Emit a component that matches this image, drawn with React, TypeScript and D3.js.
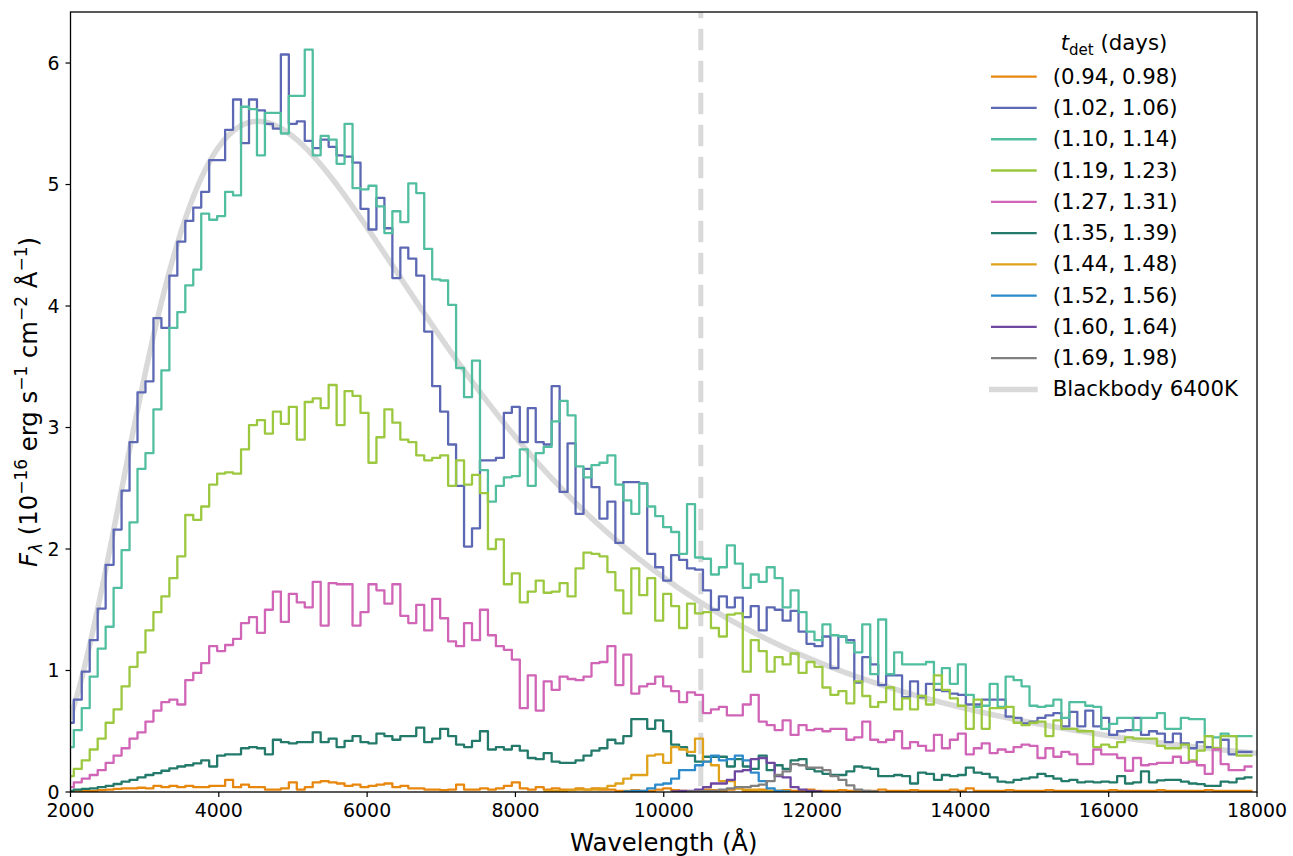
import React from "react";
import * as d3 from "d3";

// Histogram bin grid (Å)
const BIN_START = 1937;
const BIN_WIDTH = 107.4;

// t_det (0.94, 0.98)
const flux094 = [
  0.0, 0.005, 0.01, 0.01, 0.015, 0.02, 0.025, 0.03, 0.03, 0.035,
  0.03, 0.05, 0.04, 0.05, 0.04, 0.05, 0.04, 0.04, 0.05, 0.05,
  0.1, 0.04, 0.06, 0.04, 0.04, 0.02, 0.02, 0.03, 0.08, 0.02,
  0.04, 0.08, 0.09, 0.08, 0.07, 0.05, 0.06, 0.04, 0.05, 0.06,
  0.07, 0.04, 0.05, 0.03, 0.03, 0.02, 0.02, 0.015, 0.02, 0.06,
  0.02, 0.02, 0.03, 0.02, 0.03, 0.05, 0.08, 0.03, 0.02, 0.04,
  0.02, 0.03, 0.02, 0.02, 0.03, 0.02, 0.03, 0.02, 0.02, 0.01,
  0.01, 0.015, 0.01, 0.01, 0.02, 0.03, 0.015, 0.01, 0.005, 0.01,
  0.02, 0.015, 0.01, 0.02, 0.03, 0.01, 0.01, 0.02, 0.01, 0.01,
  0.015, 0.01, 0.01, 0.02, 0.01, 0.01, 0.01, 0.015, 0.01, 0.01,
  0.01, 0.01, 0.02, 0.01, 0.01, 0.01, 0.015, 0.01, 0.01, 0.01,
  0.01, 0.02, 0.01, 0.03, 0.01, 0.01, 0.01, 0.01, 0.015, 0.01,
  0.01, 0.01, 0.01, 0.015, 0.01, 0.01, 0.01, 0.01, 0.01, 0.01,
  0.01, 0.015, 0.01, 0.01, 0.01, 0.01, 0.01, 0.015, 0.01, 0.01,
  0.01, 0.01, 0.01, 0.015, 0.01, 0.01, 0.01, 0.01, 0.01,
];

// t_det (1.02, 1.06)
const flux102 = [
  0.57, 0.76, 0.99, 1.25, 1.51, 1.87, 2.16, 2.48, 2.88, 3.29,
  3.38, 3.9, 3.82, 4.25, 4.53, 4.7, 4.81, 4.94, 5.2, 5.2,
  5.45, 5.7, 5.34, 5.7, 5.61, 5.5, 5.46, 6.07, 5.5, 5.52,
  5.36, 5.3, 5.37, 5.31, 5.24, 5.23, 5.18, 4.8, 4.63, 4.89,
  4.64, 4.23, 4.48, 4.39, 4.25, 3.79, 3.34, 3.13, 2.86, 2.52,
  2.02, 2.17, 2.73, 2.73, 2.75, 3.12, 3.17, 2.88, 3.16, 2.88,
  2.86, 3.34, 2.47, 2.87, 2.29, 2.66, 2.51, 2.25, 2.39, 2.05,
  2.55, 2.55, 2.54, 1.96, 1.85, 1.74, 1.95, 1.91, 1.84, 1.83,
  1.66, 1.5, 1.61, 1.52, 1.6, 1.44, 1.53, 1.33, 1.52, 1.5,
  1.41, 1.49, 1.32, 1.22, 1.2, 1.28, 1.02, 1.28, 1.25, 0.9,
  1.11, 1.05, 0.88, 0.96, 0.96, 0.78, 0.91, 0.78, 0.89, 0.84,
  0.83, 0.81, 0.8, 0.72, 0.72, 0.76, 0.76, 0.76, 0.62, 0.61,
  0.565, 0.58, 0.61, 0.63, 0.65, 0.54, 0.66, 0.54, 0.67, 0.54,
  0.61, 0.47, 0.5, 0.51, 0.61, 0.47, 0.5, 0.48, 0.41, 0.48,
  0.4, 0.36, 0.41, 0.37, 0.36, 0.43, 0.31, 0.33, 0.33,
];

// t_det (1.10, 1.14)
const flux110 = [
  0.37, 0.51, 0.69, 0.95, 1.18, 1.36, 1.68, 1.99, 2.22, 2.66,
  2.79, 3.15, 3.47, 3.82, 3.95, 4.17, 4.3, 4.76, 4.71, 4.74,
  4.94, 4.91, 5.64, 5.62, 5.24, 5.59, 5.59, 5.42, 5.73, 5.73,
  6.11, 5.24, 5.4, 5.37, 5.17, 5.5, 4.97, 4.96, 4.99, 4.82,
  4.6, 4.78, 4.69, 5.01, 4.93, 4.47, 4.22, 4.21, 4.01, 3.49,
  3.25, 3.55, 2.65, 2.39, 2.52, 2.59, 2.6, 2.82, 2.52, 2.79,
  2.84, 3.05, 3.22, 3.1, 2.68, 2.59, 2.69, 2.71, 2.77, 2.53,
  2.4, 2.29, 2.54, 2.35, 2.27, 2.18, 2.14, 1.96, 2.37, 1.93,
  1.92, 1.79, 1.85, 2.03, 1.88, 1.68, 1.79, 1.73, 1.85, 1.76,
  1.52, 1.66, 1.48, 1.32, 1.25, 1.38, 1.29, 1.28, 1.23, 1.15,
  1.38, 0.97, 1.42, 0.97, 1.15, 1.05, 1.05, 1.05, 1.07, 0.89,
  1.02, 0.89, 1.05, 0.8, 0.7, 0.71, 0.89, 0.7, 0.95, 0.92,
  0.87, 0.71, 0.7, 0.71, 0.76, 0.61, 0.74, 0.74, 0.71, 0.7,
  0.52, 0.56, 0.61, 0.61, 0.51, 0.61, 0.61, 0.65, 0.52, 0.52,
  0.61, 0.6, 0.6, 0.46, 0.45, 0.48, 0.46, 0.46, 0.46,
];

// t_det (1.19, 1.23)
const flux119 = [
  0.13, 0.19, 0.26, 0.35, 0.44, 0.57, 0.68, 0.87, 1.03, 1.15,
  1.33, 1.48, 1.61, 1.76, 1.94, 2.28, 2.24, 2.35, 2.53, 2.62,
  2.63, 2.62, 2.82, 3.02, 3.06, 2.95, 3.13, 3.03, 3.17, 2.9,
  3.21, 3.24, 3.16, 3.35, 3.02, 3.3, 3.26, 3.12, 2.71, 2.92,
  3.15, 3.04, 2.9, 2.88, 2.77, 2.73, 2.75, 2.77, 2.52, 2.73,
  2.53, 2.61, 2.46, 2.0, 2.08, 1.71, 1.8, 1.56, 1.65, 1.74,
  1.64, 1.65, 1.72, 1.61, 1.84, 1.97, 1.96, 1.94, 1.81, 1.66,
  1.47, 1.84, 1.62, 1.76, 1.41, 1.63, 1.53, 1.35, 1.55, 1.47,
  1.48, 1.35, 1.28, 1.46, 1.47, 0.99, 1.25, 1.16, 0.99, 1.11,
  1.05, 1.14, 0.98, 1.07, 1.03, 0.86, 0.8, 0.83, 0.73, 0.91,
  0.79, 0.7, 0.74, 0.86, 0.68, 0.77, 0.68, 0.79, 0.72, 0.96,
  0.84, 0.77, 0.71, 0.52, 0.76, 0.52, 0.69, 0.69, 0.7, 0.57,
  0.55, 0.57, 0.58, 0.46, 0.59, 0.52, 0.52, 0.5, 0.5, 0.37,
  0.39, 0.37, 0.41, 0.45, 0.44, 0.44, 0.44, 0.38, 0.36, 0.36,
  0.39, 0.26, 0.34, 0.46, 0.36, 0.46, 0.46, 0.3, 0.3,
];

// t_det (1.27, 1.31)
const flux127 = [
  0.04, 0.08, 0.11, 0.14, 0.18, 0.24, 0.3, 0.36, 0.44, 0.49,
  0.58, 0.67, 0.74, 0.76, 0.72, 0.92, 0.98, 1.06, 1.2, 1.16,
  1.21, 1.26, 1.39, 1.44, 1.31, 1.5, 1.65, 1.4, 1.63, 1.56,
  1.52, 1.73, 1.37, 1.72, 1.71, 1.71, 1.37, 1.48, 1.71, 1.66,
  1.55, 1.71, 1.45, 1.39, 1.54, 1.33, 1.59, 1.43, 1.24, 1.2,
  1.39, 1.25, 1.5, 1.29, 1.2, 1.17, 1.09, 0.69, 0.96, 0.67,
  0.91, 0.84, 0.95, 0.93, 0.92, 0.95, 1.06, 1.07, 1.2, 0.88,
  1.13, 0.81, 0.87, 0.89, 0.95, 0.87, 0.83, 0.74, 0.82, 0.8,
  0.65, 0.68, 0.7, 0.63, 0.63, 0.72, 0.8, 0.58, 0.55, 0.51,
  0.59, 0.47, 0.55, 0.51, 0.52, 0.5, 0.52, 0.52, 0.43, 0.45,
  0.58, 0.43, 0.41, 0.43, 0.5, 0.36, 0.41, 0.38, 0.34, 0.47,
  0.36, 0.43, 0.48, 0.31, 0.36, 0.4, 0.32, 0.35, 0.33, 0.37,
  0.39, 0.38, 0.28, 0.36, 0.29, 0.33, 0.31, 0.23, 0.23, 0.35,
  0.31, 0.31, 0.28, 0.175, 0.28, 0.22, 0.23, 0.24, 0.24, 0.29,
  0.24, 0.25, 0.22, 0.15, 0.35, 0.23, 0.18, 0.18, 0.21,
];

// t_det (1.35, 1.39)
const flux135 = [
  0.01, 0.02, 0.025, 0.03, 0.04, 0.05, 0.066, 0.085, 0.1, 0.12,
  0.14, 0.155, 0.175, 0.195, 0.21, 0.22, 0.235, 0.26, 0.21, 0.3,
  0.31, 0.31, 0.36, 0.37, 0.36, 0.31, 0.43, 0.41, 0.4, 0.41,
  0.41, 0.49, 0.41, 0.44, 0.37, 0.42, 0.46, 0.41, 0.4, 0.48,
  0.46, 0.43, 0.46, 0.46, 0.53, 0.41, 0.44, 0.52, 0.46, 0.39,
  0.37, 0.42, 0.5, 0.35, 0.37, 0.35, 0.38, 0.34, 0.28, 0.27,
  0.32, 0.25, 0.24, 0.24, 0.26, 0.3, 0.34, 0.36, 0.43, 0.4,
  0.46, 0.6, 0.6, 0.52, 0.59, 0.5, 0.39, 0.37, 0.3, 0.25,
  0.29, 0.29, 0.29, 0.21, 0.27, 0.21, 0.19, 0.3, 0.18, 0.22,
  0.19, 0.26, 0.27, 0.19, 0.17, 0.15, 0.14, 0.14, 0.17, 0.21,
  0.2, 0.19, 0.13, 0.13, 0.14, 0.13, 0.07, 0.16, 0.15, 0.1,
  0.14, 0.13, 0.14, 0.2, 0.16, 0.15, 0.12, 0.085, 0.08, 0.1,
  0.11, 0.12, 0.15, 0.13, 0.11, 0.09, 0.1, 0.08, 0.085, 0.08,
  0.085, 0.08, 0.13, 0.07, 0.08, 0.17, 0.08, 0.095, 0.1, 0.1,
  0.085, 0.07, 0.065, 0.05, 0.05, 0.085, 0.08, 0.11, 0.12,
];

// Late epochs: only non-zero over a limited bin range (first bin index given)
const start144 = 60;
const flux144 = [
  0.005, 0.01, 0.01, 0.015, 0.02, 0.02, 0.02, 0.03, 0.05, 0.07,
  0.11, 0.14, 0.14, 0.3, 0.31, 0.24, 0.37, 0.35, 0.33, 0.44,
  0.25, 0.22, 0.09, 0.09, 0.03, 0.02, 0.02, 0.01, 0.01, 0.01, 0.005,
];
const start152 = 70;
const flux152 = [
  0.005, 0.01, 0.01, 0.03, 0.06, 0.07, 0.11, 0.18, 0.18, 0.22,
  0.25, 0.3, 0.26, 0.27, 0.3, 0.26, 0.16, 0.09, 0.03, 0.01, 0.005,
];
const start160 = 76;
const flux160 = [
  0.005, 0.01, 0.01, 0.02, 0.04, 0.07, 0.07, 0.1, 0.17, 0.18,
  0.27, 0.28, 0.24, 0.13, 0.12, 0.04, 0.02, 0.01, 0.005,
];
const start169 = 78;
const flux169 = [
  0.005, 0.005, 0.01, 0.01, 0.02, 0.03, 0.04, 0.04, 0.05, 0.06,
  0.09, 0.14, 0.17, 0.23, 0.22, 0.2, 0.2, 0.18, 0.13, 0.1,
  0.055, 0.02, 0.01, 0.005,
];

const seriesLabels = [
  "(0.94, 0.98)", "(1.02, 1.06)", "(1.10, 1.14)", "(1.19, 1.23)", "(1.27, 1.31)",
  "(1.35, 1.39)", "(1.44, 1.48)", "(1.52, 1.56)", "(1.60, 1.64)", "(1.69, 1.98)",
];
const bbLabel = "Blackbody 6400K";

const xTicks = [2000, 4000, 6000, 8000, 10000, 12000, 14000, 16000, 18000];
const yTicks = [0, 1, 2, 3, 4, 5, 6];

const BB_TEMPERATURE = 6400; // K
const BB_PEAK_FLUX = 5.52;
const CUTOFF_WAVELENGTH = 10500;

const COLORS = [
  "#e8870e", "#5c68b3", "#52bea0", "#9bc83f", "#d064b6",
  "#237a6b", "#e0a21b", "#2d8bcb", "#6e47a0", "#808080",
];
const BB_COLOR = "#d9d9d9";
const FONT = "'DejaVu Sans', 'Liberation Sans', sans-serif";

export default function App() {
  const W = 1293;
  const H = 856;
  const left = 70.5;
  const right = 1257;
  const top = 12;
  const bottom = 792;

  const x = d3.scaleLinear().domain([2000, 18000]).range([left, right]);
  const y = d3.scaleLinear().domain([0, 6.42]).range([bottom, top]);

  const line = d3
    .line<[number, number]>()
    .x((d) => x(d[0]))
    .y((d) => y(d[1]));

  const stepPoints = (values: number[], start: number) => {
    const pts: [number, number][] = [];
    values.forEach((v, k) => {
      const a = BIN_START + (start + k) * BIN_WIDTH;
      pts.push([a, v], [a + BIN_WIDTH, v]);
    });
    return pts;
  };

  const series = [
    { v: flux094, s: 0 },
    { v: flux102, s: 0 },
    { v: flux110, s: 0 },
    { v: flux119, s: 0 },
    { v: flux127, s: 0 },
    { v: flux135, s: 0 },
    { v: flux144, s: start144 },
    { v: flux152, s: start152 },
    { v: flux160, s: start160 },
    { v: flux169, s: start169 },
  ];

  // Planck blackbody, normalised to its peak
  const HC_K = 1.438777e8; // Å K
  const planck = (l: number) =>
    Math.pow(l, -5) / (Math.exp(HC_K / (l * BB_TEMPERATURE)) - 1);
  const lPeak = 2.897772e7 / BB_TEMPERATURE;
  const norm = planck(lPeak);
  const bbPts: [number, number][] = d3
    .range(1990, 18011, 10)
    .map((l) => [l, (BB_PEAK_FLUX * planck(l)) / norm]);

  const tickFont = 18.9;
  const legFont = 21.3;
  const labFont = 24.3;
  const supFont = 17;

  const legX0 = 991;
  const legX1 = 1036.7;
  const legTextX = 1052.7;
  const legY0 = 76.7;
  const legDy = 31.27;

  return (
    <svg
      width={W}
      height={H}
      style={{ position: "absolute", left: 0, top: 0, background: "#fff" }}
      fontFamily={FONT}
    >
      <rect x={0} y={0} width={W} height={H} fill="#fff" />
      <defs>
        <clipPath id="plotclip">
          <rect x={left} y={top} width={right - left} height={bottom - top} />
        </clipPath>
      </defs>

      <g clipPath="url(#plotclip)">
        <line
          x1={x(CUTOFF_WAVELENGTH)}
          x2={x(CUTOFF_WAVELENGTH)}
          y1={top}
          y2={bottom}
          stroke={BB_COLOR}
          strokeWidth={5}
          strokeDasharray="21.5,10.5"
          strokeDashoffset={15.3}
        />
        <path d={line(bbPts) || ""} fill="none" stroke={BB_COLOR} strokeWidth={5.5} />
        {series.map((s, i) => (
          <path
            key={i}
            d={line(stepPoints(s.v, s.s)) || ""}
            fill="none"
            stroke={COLORS[i]}
            strokeWidth={2.3}
            strokeLinejoin="round"
          />
        ))}
      </g>

      {/* spines */}
      <rect
        x={left}
        y={top}
        width={right - left}
        height={bottom - top}
        fill="none"
        stroke="#000"
        strokeWidth={1.3}
      />

      {/* x ticks */}
      {xTicks.map((t) => (
        <g key={"x" + t}>
          <line x1={x(t)} x2={x(t)} y1={bottom} y2={bottom + 5} stroke="#000" strokeWidth={1.2} />
          <text x={x(t)} y={bottom + 24.5} textAnchor="middle" fontSize={tickFont} fill="#000">
            {t}
          </text>
        </g>
      ))}
      {/* y ticks */}
      {yTicks.map((t) => (
        <g key={"y" + t}>
          <line x1={left - 5} x2={left} y1={y(t)} y2={y(t)} stroke="#000" strokeWidth={1.2} />
          <text x={left - 11} y={y(t) + 6.9} textAnchor="end" fontSize={tickFont} fill="#000">
            {t}
          </text>
        </g>
      ))}

      {/* axis labels */}
      <text x={(left + right) / 2} y={851} textAnchor="middle" fontSize={labFont} fill="#000">
        Wavelength (Å)
      </text>
      <text
        transform={`translate(37, ${(top + bottom) / 2}) rotate(-90)`}
        textAnchor="middle"
        fontSize={labFont}
        fill="#000"
      >
        <tspan fontStyle="italic">F</tspan>
        <tspan fontSize={supFont} dy={5} fontStyle="italic">λ</tspan>
        <tspan dy={-5}>{"\u00a0(10"}</tspan>
        <tspan fontSize={supFont} dy={-10}>−16</tspan>
        <tspan dy={10}>{"\u00a0erg s"}</tspan>
        <tspan fontSize={supFont} dy={-10}>−1</tspan>
        <tspan dy={10}>{"\u00a0cm"}</tspan>
        <tspan fontSize={supFont} dy={-10}>−2</tspan>
        <tspan dy={10}>{"\u00a0Å"}</tspan>
        <tspan fontSize={supFont} dy={-10}>−1</tspan>
        <tspan dy={10}>)</tspan>
      </text>

      {/* legend */}
      <text x={1114} y={49.5} textAnchor="middle" fontSize={legFont} fill="#000">
        <tspan fontStyle="italic">t</tspan>
        <tspan fontSize={15} dy={5}>det</tspan>
        <tspan dy={-5}>{"\u00a0(days)"}</tspan>
      </text>
      {seriesLabels.map((lab, i) => {
        const cy = legY0 + i * legDy;
        return (
          <g key={"leg" + i}>
            <line x1={legX0} x2={legX1} y1={cy} y2={cy} stroke={COLORS[i]} strokeWidth={2.3} />
            <text x={legTextX} y={cy + 7} fontSize={legFont} fill="#000">
              {lab}
            </text>
          </g>
        );
      })}
      {(() => {
        const cy = legY0 + seriesLabels.length * legDy;
        return (
          <g>
            <line x1={legX0 - 2} x2={legX1 + 1} y1={cy} y2={cy} stroke={BB_COLOR} strokeWidth={5.5} />
            <text x={legTextX} y={cy + 7} fontSize={legFont} fill="#000">
              {bbLabel}
            </text>
          </g>
        );
      })()}
    </svg>
  );
}
